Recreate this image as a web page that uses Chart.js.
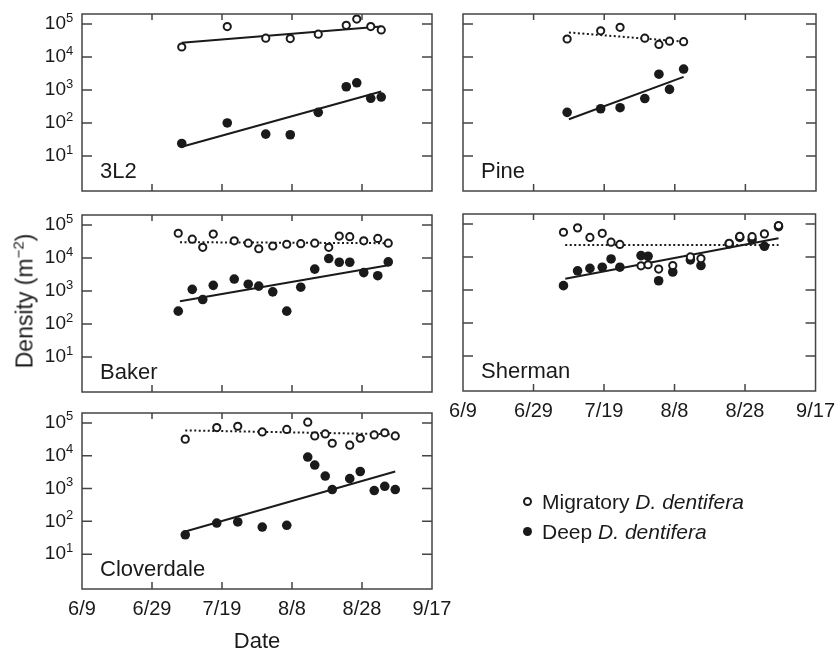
<!DOCTYPE html>
<html>
<head>
<meta charset="utf-8">
<script src="https://cdn.jsdelivr.net/npm/chart.js@4/dist/chart.umd.min.js"></script>
<style>
  body { margin: 0; background: #fff; font-family: 'Liberation Sans', Arial, sans-serif; color: #1a1a1a; }
  #wrap { position: relative; width: 835px; height: 650px; }
  canvas { position: absolute; left: 0; top: 0; }
  .ylab { position: absolute; left: 24px; top: 301px; transform: translate(-50%, -50%) rotate(-90deg); font-size: 23px; white-space: nowrap; }
  .ylab sup { font-size: 15px; vertical-align: 9px; }
  .legend { position: absolute; left: 523px; top: 487px; font-size: 21px; line-height: 30px; white-space: nowrap; }
  .mk { display: inline-block; box-sizing: border-box; width: 9px; height: 9px; border-radius: 50%; margin-right: 10px; vertical-align: 3px; }
  .mk.open { border: 2px solid #1a1a1a; background: #fff; }
  .mk.fill { background: #1a1a1a; }
</style>
</head>
<body>
<div id="wrap">
  <canvas id="c3l2" width="835" height="650"></canvas>
  <canvas id="cpine" width="835" height="650"></canvas>
  <canvas id="cbaker" width="835" height="650"></canvas>
  <canvas id="csherman" width="835" height="650"></canvas>
  <canvas id="cclover" width="835" height="650"></canvas>
  <div class="ylab">Density (m<sup>−2</sup>)</div>
  <div class="legend">
    <div><span class="mk open"></span>Migratory <i>D. dentifera</i></div>
    <div><span class="mk fill"></span>Deep <i>D. dentifera</i></div>
  </div>
</div>
<script>
// x axis: days after 6/9
const tickDays = [0, 20, 40, 60, 80, 100];
const tickLabels = ['6/9', '6/29', '7/19', '8/8', '8/28', '9/17'];
const yTicks = [10, 100, 1000, 10000, 100000];

// 3L2
const days3L2 = [28.5, 41.5, 52.5, 59.5, 67.5, 75.5, 78.5, 82.5, 85.5];
const mig3L2 = [20000, 83000, 37000, 36000, 49000, 91000, 140000, 83000, 66000];
const deep3L2 = [24, 100, 46, 44, 210, 1250, 1650, 560, 610];
const fitDays3L2 = [28.5, 85.5];
const migFit3L2 = [27000, 83000];
const deepFit3L2 = [19, 900];

// Pine
const daysPine = [29.5, 39, 44.5, 51.5, 55.5, 58.5, 62.5];
const migPine = [35000, 62000, 79000, 37000, 24000, 30000, 29000];
const deepPine = [210, 270, 290, 550, 3000, 1040, 4300];
const fitDaysPine = [30, 62.5];
const migFitPine = [55000, 29000];
const deepFitPine = [130, 2500];

// Baker
const daysBaker = [27.5, 31.5, 34.5, 37.5, 43.5, 47.5, 50.5, 54.5, 58.5, 62.5, 66.5, 70.5, 73.5, 76.5, 80.5, 84.5, 87.5];
const migBaker = [56000, 37000, 21000, 53000, 33000, 28000, 19000, 23000, 26000, 27000, 28000, 21000, 46000, 44000, 33000, 39000, 28000];
const deepBaker = [245, 1120, 550, 1480, 2300, 1600, 1400, 940, 245, 1300, 4600, 9600, 7400, 7400, 3600, 2900, 7600];
const fitDaysBaker = [28, 87.5];
const migFitBaker = [30000, 28000];
const deepFitBaker = [490, 6000];

// Sherman
const daysSherman = [28.5, 32.5, 36, 39.5, 42, 44.5, 50.5, 52.5, 55.5, 59.5, 64.5, 67.5, 75.5, 78.5, 82, 85.5, 89.5];
const migSherman = [56000, 76000, 39000, 52000, 28000, 24000, 5400, 5800, 4300, 5500, 10000, 8900, 26000, 42000, 41000, 50000, 89000];
const deepSherman = [1350, 3800, 4500, 4900, 8700, 4900, 11000, 10500, 1900, 3500, 8100, 5500, 25000, 39000, 33000, 21000, 83000];
const fitDaysSherman = [29, 89.5];
const migFitSherman = [23000, 23000];
const deepFitSherman = [2200, 37000];

// Cloverdale
const daysClover = [29.5, 38.5, 44.5, 51.5, 58.5, 64.5, 66.5, 69.5, 71.5, 76.5, 79.5, 83.5, 86.5, 89.5];
const migClover = [32000, 72000, 79000, 53000, 63000, 105000, 40000, 46000, 24000, 21000, 34000, 43000, 50000, 40000];
const deepClover = [39, 89, 96, 67, 76, 9100, 5200, 2400, 930, 2000, 3300, 870, 1170, 930];
const fitDaysClover = [29.5, 89.5];
const migFitClover = [59000, 45000];
const deepFitClover = [49, 3300];

const INK = '#1a1a1a';
const FONT = "'Liberation Sans', Arial, sans-serif";

Chart.defaults.font.family = FONT;
Chart.defaults.color = INK;

// frame with inward tick marks, exponents of the y labels, panel name
const framePlugin = {
  id: 'frame',
  afterDraw(chart, args, opts) {
    const { ctx, chartArea: a, scales: { x, y } } = chart;
    ctx.save();
    ctx.strokeStyle = '#444';
    ctx.lineWidth = 1.5;
    ctx.strokeRect(a.left, a.top, a.right - a.left, a.bottom - a.top);
    ctx.beginPath();
    tickDays.forEach(d => {
      const px = x.getPixelForValue(d);
      if (px <= a.left + 1 || px >= a.right - 1) return;
      ctx.moveTo(px, a.bottom); ctx.lineTo(px, a.bottom - 7);
      ctx.moveTo(px, a.top); ctx.lineTo(px, a.top + 6);
    });
    yTicks.forEach(v => {
      const py = y.getPixelForValue(v);
      ctx.moveTo(a.left, py); ctx.lineTo(a.left + 10, py);
      ctx.moveTo(a.right, py); ctx.lineTo(a.right - 10, py);
    });
    ctx.stroke();
    ctx.fillStyle = INK;
    if (opts.yLabels) {
      ctx.font = '13px ' + FONT;
      ctx.textBaseline = 'middle';
      ctx.textAlign = 'left';
      yTicks.forEach(v => {
        ctx.fillText(String(Math.round(Math.log10(v))), a.left - 16, y.getPixelForValue(v) - 6);
      });
    }
    ctx.font = '22px ' + FONT;
    ctx.textBaseline = 'alphabetic';
    ctx.textAlign = 'left';
    ctx.fillText(opts.name, a.left + 18, a.bottom - 13);
    ctx.restore();
  }
};

function pts(days, vals) {
  return days.map((d, i) => ({ x: d, y: vals[i] }));
}

// invisible outer tick marks only to space the labels from the frame
function gapGrid(len) {
  return { display: true, drawOnChartArea: false, drawTicks: true, tickLength: len, color: 'rgba(0,0,0,0)' };
}

function makePanel(p) {
  const [left, top, right, bottom] = p.box;
  const yW = p.yLabels ? 82 : 0;
  const xH = p.xTitle ? 66 : (p.xLabels ? 30 : 0);
  new Chart(document.getElementById(p.id), {
    type: 'scatter',
    data: {
      datasets: [
        { data: pts(p.days, p.mig), pointRadius: 3.6, borderWidth: 2, borderColor: INK, backgroundColor: '#fff', order: 0, clip: false },
        { data: pts(p.days, p.deep), pointRadius: 4.8, borderWidth: 0, backgroundColor: INK, order: 1, clip: false },
        { data: pts(p.fitDays, p.migFit), showLine: true, pointRadius: 0, borderWidth: 2, borderColor: INK, borderDash: p.dotted ? [2, 2.5] : [], order: 2 },
        { data: pts(p.fitDays, p.deepFit), showLine: true, pointRadius: 0, borderWidth: 2, borderColor: INK, order: 2 }
      ]
    },
    options: {
      responsive: false,
      animation: false,
      layout: {
        autoPadding: false,
        padding: { left: left - yW, top: top, right: 835 - right, bottom: 650 - bottom - xH }
      },
      plugins: { legend: { display: false }, tooltip: { enabled: false }, frame: { name: p.name, yLabels: p.yLabels } },
      scales: {
        x: {
          type: 'linear', min: 0, max: 100,
          afterBuildTicks: s => { s.ticks = tickDays.map(v => ({ value: v })); },
          afterFit: s => { s.height = xH; },
          grid: p.xLabels ? gapGrid(8) : { display: false },
          border: { display: false },
          ticks: { display: p.xLabels, maxRotation: 0, autoSkip: false, padding: 0, font: { size: 20 },
                   callback: (v, i) => tickLabels[i] },
          title: { display: !!p.xTitle, text: 'Date', font: { size: 22 }, padding: 0 }
        },
        y: {
          type: 'logarithmic', min: 0.87, max: 200000,
          afterBuildTicks: s => { s.ticks = yTicks.map(v => ({ value: v })); },
          afterFit: s => { s.width = yW; },
          grid: p.yLabels ? gapGrid(14) : { display: false },
          border: { display: false },
          ticks: { display: p.yLabels, padding: 2, font: { size: 19 }, callback: () => '10' }
        }
      }
    },
    plugins: [framePlugin]
  });
}

[
  { id: 'c3l2', name: '3L2', days: days3L2, mig: mig3L2, deep: deep3L2, fitDays: fitDays3L2, migFit: migFit3L2, deepFit: deepFit3L2,
    dotted: false, box: [82, 14, 432, 191], yLabels: true, xLabels: false },
  { id: 'cpine', name: 'Pine', days: daysPine, mig: migPine, deep: deepPine, fitDays: fitDaysPine, migFit: migFitPine, deepFit: deepFitPine,
    dotted: true, box: [463, 14, 816, 191], yLabels: false, xLabels: false },
  { id: 'cbaker', name: 'Baker', days: daysBaker, mig: migBaker, deep: deepBaker, fitDays: fitDaysBaker, migFit: migFitBaker, deepFit: deepFitBaker,
    dotted: true, box: [82, 215, 432, 392], yLabels: true, xLabels: false },
  { id: 'csherman', name: 'Sherman', days: daysSherman, mig: migSherman, deep: deepSherman, fitDays: fitDaysSherman, migFit: migFitSherman, deepFit: deepFitSherman,
    dotted: true, box: [463, 214, 816, 391], yLabels: false, xLabels: true },
  { id: 'cclover', name: 'Cloverdale', days: daysClover, mig: migClover, deep: deepClover, fitDays: fitDaysClover, migFit: migFitClover, deepFit: deepFitClover,
    dotted: true, box: [82, 413, 432, 589], yLabels: true, xLabels: true, xTitle: true }
].forEach(makePanel);
</script>
</body>
</html>
